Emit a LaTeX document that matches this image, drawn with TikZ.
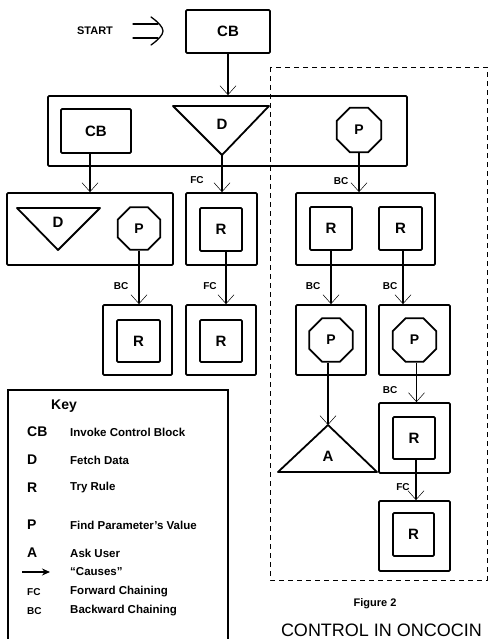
\documentclass[tikz,border=0pt]{standalone}
\usepackage{fontspec}
\setmainfont{Liberation Sans}
\usetikzlibrary{shapes.geometric,arrows.meta}
\tikzset{
  box/.style={draw, line width=1.8pt, rounded corners=1.2pt, inner sep=0pt, font=\fontsize{15}{15}\selectfont\bfseries},
  oct/.style={draw, regular polygon, regular polygon sides=8, line width=1.8pt, inner sep=0pt, minimum size=47pt, font=\fontsize{14}{14}\selectfont\bfseries},
  tri/.style={line width=1.8pt, line join=round},
  trilbl/.style={inner sep=0pt, font=\fontsize{15}{15}\selectfont\bfseries},
  conn/.style={line width=1.2pt, -{Straight Barb[length=9pt,width=16pt,line width=0.5pt]}},
  lbl/.style={font=\fontsize{10}{10}\selectfont\bfseries, inner sep=0pt},
  keysym/.style={anchor=west, inner sep=0pt, font=\fontsize{14}{14}\selectfont\bfseries},
  keysmall/.style={anchor=west, inner sep=0pt, font=\fontsize{10}{10}\selectfont\bfseries},
  keytxt/.style={anchor=west, inner sep=0pt, font=\fontsize{11.5}{12}\selectfont\bfseries},
  dblline/.style={line width=1.3pt, line cap=round},
  region/.style={line width=0.9pt, dash pattern=on 5pt off 4pt},
}
\begin{document}
\begin{tikzpicture}[x=1pt,y=-1pt]
\useasboundingbox (0,0) rectangle (489,639);

% start
\node[inner sep=0pt, font=\fontsize{11}{11}\selectfont\bfseries] (start) at (95,31) {START};
\node[box, minimum width=84pt, minimum height=43pt] (cb0) at (228,31.5) {CB};
\coordinate (sa1) at (133,24); \coordinate (sa2) at (158,24);
\coordinate (sb1) at (133,38); \coordinate (sb2) at (158,38);
\coordinate (sh1) at (151,17); \coordinate (sh2) at (163,31); \coordinate (sh3) at (151,45);
\draw[dblline] (sa1) -- (sa2);
\draw[dblline] (sb1) -- (sb2);
\draw[dblline] (sh1) .. controls (158,22) and (163,27) .. (sh2) .. controls (163,35) and (158,40) .. (sh3);

% big control block
\node[box, minimum width=359pt, minimum height=70pt] (big) at (227.5,131) {};
\node[box, minimum width=70pt, minimum height=44pt] (cb1) at (96,131) {CB};
\coordinate (d0t) at (222,155);
\draw[tri] (173,106) -- (269,106) -- (d0t) -- cycle;
\node[trilbl] (d0) at (222,124) {D};
\node[oct, minimum size=48pt] (p0) at (359,130) {P};

% row 2
\node[box, minimum width=166pt, minimum height=72pt] (dp) at (90,229) {};
\coordinate (d1t) at (58,250);
\draw[tri] (17,208) -- (100,208) -- (d1t) -- cycle;
\node[trilbl] (d1) at (58,222) {D};
\node[oct, minimum size=46pt] (p1) at (139,228.5) {P};

\node[box, minimum width=71pt, minimum height=72pt] (fco) at (221.5,229) {};
\node[box, minimum width=42pt, minimum height=43pt] (r1) at (221,229.5) {R};

\node[box, minimum width=139pt, minimum height=72pt] (rro) at (365.5,229) {};
\node[box, minimum width=42pt, minimum height=43pt] (r2) at (331,228.5) {R};
\node[box, minimum width=43pt, minimum height=43pt] (r3) at (400.5,228.5) {R};

% row 3
\node[box, minimum width=69pt, minimum height=70pt] (bco) at (137.5,340) {};
\node[box, minimum width=43pt, minimum height=42pt] (r4) at (138.5,341) {R};
\node[box, minimum width=70pt, minimum height=70pt] (fco2) at (221,340) {};
\node[box, minimum width=42pt, minimum height=42pt] (r5) at (221,341) {R};
\node[box, minimum width=70pt, minimum height=70pt] (pbl) at (331,340) {};
\node[oct] (p2) at (331,340) {P};
\node[box, minimum width=71pt, minimum height=70pt] (pbr) at (414.5,340) {};
\node[oct] (p3) at (414.5,340) {P};

% ask user
\coordinate (at) at (328,425);
\draw[tri] (at) -- (377,472) -- (278,472) -- cycle;
\node[trilbl] (a) at (328,456) {A};

% rows 4, 5
\node[box, minimum width=71pt, minimum height=70pt] (r6o) at (414.5,438) {};
\node[box, minimum width=42pt, minimum height=42pt] (r6) at (414,438) {R};
\node[box, minimum width=71pt, minimum height=70pt] (r7o) at (414.5,536) {};
\node[box, minimum width=41pt, minimum height=43pt] (r7) at (413.5,534.5) {R};

% connectors
\draw[conn] (cb0.south) -- (big.north -| cb0.south);
\draw[conn] (cb1.south -| dp.north) -- (dp.north);
\draw[conn] (d0t) -- (d0t |- fco.north);
\draw[conn] (p0.south) -- (p0.south |- rro.north);
\draw[conn] (p1.south) -- (p1.south |- bco.north);
\draw[conn] ([xshift=5pt]r1.south) -- ([xshift=5pt]r1.south |- fco2.north);
\draw[conn] (r2.south) -- (r2.south |- pbl.north);
\draw[conn] ([xshift=2.5pt]r3.south) -- ([xshift=2.5pt]r3.south |- pbr.north);
\draw[conn] (at |- p2.south) -- (at);
\draw[conn] ([xshift=2pt]p3.south) -- ([xshift=2pt]p3.south |- r6o.north);
\draw[conn] ([xshift=2pt]r6.south) -- ([xshift=2pt]r6.south |- r7o.north);

% connector labels
\node[lbl] (l1) at (197,180) {FC};
\node[lbl] (l2) at (341,181) {BC};
\node[lbl] (l3) at (121,286) {BC};
\node[lbl] (l4) at (210,286) {FC};
\node[lbl] (l5) at (313,286) {BC};
\node[lbl] (l6) at (390,286) {BC};
\node[lbl] (l7) at (390,390) {BC};
\node[lbl] (l8) at (403,487) {FC};

% dashed region
\draw[region] (270,67) rectangle (487,580);

% key
\draw[line width=1.5pt] (8,390) rectangle (228,660);
\node[inner sep=0pt, font=\fontsize{14}{14}\selectfont\bfseries] (keyt) at (64,406) {Key};
\node[keysym] (k1) at (27,432) {CB};  \node[keytxt] (t1) at (70,432) {Invoke Control Block};
\node[keysym] (k2) at (27,460) {D};   \node[keytxt] (t2) at (70,460) {Fetch Data};
\node[keysym] (k3) at (27,488) {R};   \node[keytxt] (t3) at (70,488) {Try Rule};
\node[keysym] (k4) at (27,525) {P};   \node[keytxt] (t4) at (70,525) {Find Parameter's Value};
\node[keysym] (k5) at (27,553) {A};   \node[keytxt] (t5) at (70,553) {Ask User};
\coordinate (ka0) at (22,572); \coordinate (ka1) at (50,572);
\draw[line width=1.3pt, -{Stealth[length=8pt,width=7pt]}] (ka0) -- (ka1);
\node[keytxt] (t6) at (70,572) {“Causes”};
\node[keysmall] (k7) at (27,592) {FC};  \node[keytxt] (t7) at (70,592) {Forward Chaining};
\node[keysmall] (k8) at (27,611) {BC};  \node[keytxt] (t8) at (70,611) {Backward Chaining};

% caption
\node[inner sep=0pt, font=\fontsize{11}{11}\selectfont\bfseries] (fig) at (375,604) {Figure 2};
\node[inner sep=0pt, font=\fontsize{18}{18}\selectfont] (title) at (381.5,630) {CONTROL IN ONCOCIN};
\end{tikzpicture}
\end{document}
